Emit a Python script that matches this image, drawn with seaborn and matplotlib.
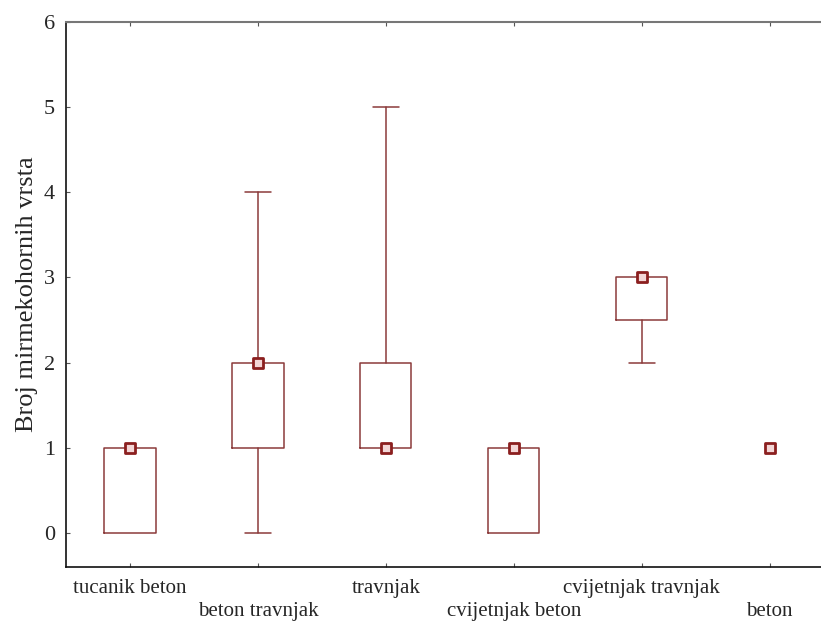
import matplotlib
matplotlib.use("Agg")
import matplotlib.pyplot as plt
import matplotlib.transforms as mtransforms
import seaborn as sns
import pandas as pd

# Summary statistics per habitat
categories = ["tucanik beton", "beton travnjak", "travnjak",
              "cvijetnjak beton", "cvijetnjak travnjak", "beton"]
medians = [1, 2, 1, 1, 3, 1]
q1 = [0, 1, 1, 0, 2.5, 1]
q3 = [1, 2, 2, 1, 3, 1]
mins = [0, 0, 1, 0, 2, 1]
maxs = [1, 4, 5, 1, 3, 1]
yticks = [0, 1, 2, 3, 4, 5, 6]

sns.set_theme(style="white")
plt.rcParams["font.family"] = ["Liberation Serif", "DejaVu Serif"]

line_col = "#8b3a3a"
fig = plt.figure(figsize=(8.21, 6.23), dpi=100)
ax = fig.add_axes([0.0804, 0.0899, 0.935, 0.8748])

stats = []
for i, name in enumerate(categories):
    stats.append(dict(label=name, med=medians[i], q1=q1[i], q3=q3[i],
                      whislo=mins[i], whishi=maxs[i], fliers=[]))

positions = list(range(len(categories)))
box_props = dict(color=line_col, linewidth=1.1)
parts = ax.bxp(stats, positions=positions, widths=0.4, showfliers=False,
               boxprops=box_props, whiskerprops=box_props,
               capprops=dict(color=line_col, linewidth=1.1), capwidths=0.2,
               medianprops=dict(linewidth=0), manage_ticks=False)

# hide zero-length whiskers/caps and degenerate boxes
for i in range(len(categories)):
    if mins[i] >= q1[i]:
        parts["whiskers"][2 * i].set_visible(False)
        parts["caps"][2 * i].set_visible(False)
    if maxs[i] <= q3[i]:
        parts["whiskers"][2 * i + 1].set_visible(False)
        parts["caps"][2 * i + 1].set_visible(False)
    if q3[i] <= q1[i]:
        parts["boxes"][i].set_visible(False)

df = pd.DataFrame({"pos": positions, "median": medians})
sns.scatterplot(data=df, x="pos", y="median", marker="s", s=45,
                facecolor="#f3d6d6", edgecolor="#8b1f1f", linewidth=2.0,
                ax=ax, zorder=5, legend=False)

ax.set_xlim(-0.5, 5.5)
ax.set_ylim(-0.4, 6)
ax.set_yticks(yticks)
ax.set_yticklabels([str(t) for t in yticks], fontsize=16)
ax.set_xticks(positions)
ax.set_xticklabels(categories, fontsize=15)
ax.set_xlabel("")
ax.set_ylabel("Broj mirmekohornih vrsta", fontsize=19, labelpad=4)

ax.tick_params(axis="both", direction="in", length=3, width=0.8,
               color="#555555", top=True, bottom=True, left=True, right=False)
ax.tick_params(axis="x", pad=9)
ax.tick_params(axis="y", pad=8)

# stagger every second category label onto a lower row
shift = mtransforms.ScaledTranslation(0, -0.23, fig.dpi_scale_trans)
for i, lab in enumerate(ax.get_xticklabels()):
    if i % 2 == 1:
        lab.set_transform(lab.get_transform() + shift)

for side in ["left", "bottom"]:
    ax.spines[side].set_color("#111111")
    ax.spines[side].set_linewidth(1.2)
ax.spines["top"].set_color("#777777")
ax.spines["top"].set_linewidth(1.5)
ax.spines["right"].set_visible(False)

fig.savefig("out.png", dpi=100)
